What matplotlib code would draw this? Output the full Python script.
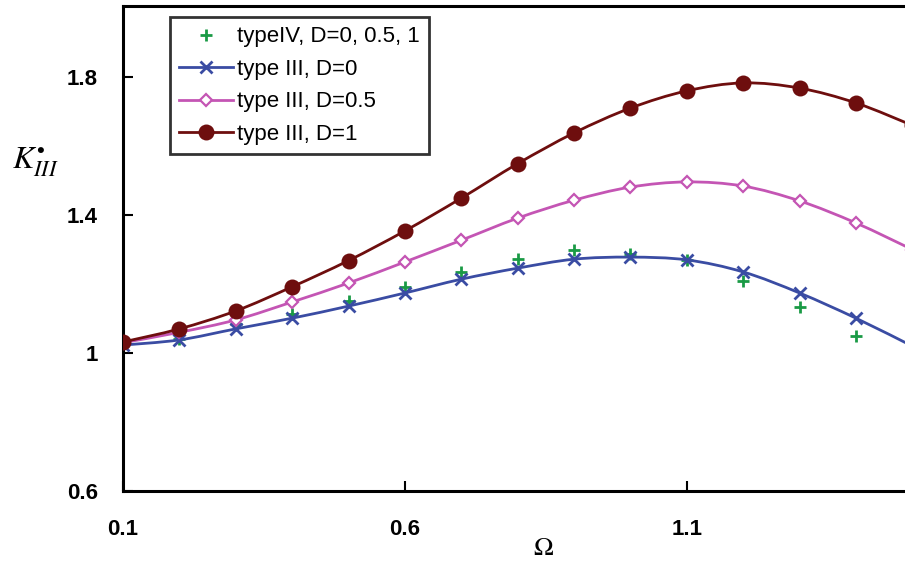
import numpy as np
import matplotlib
matplotlib.use('Agg')
import matplotlib.pyplot as plt
from matplotlib.path import Path
from matplotlib.patches import PathPatch
from matplotlib.lines import Line2D

# data
omega = [0.1, 0.2, 0.3, 0.4, 0.5, 0.6, 0.7, 0.8, 0.9, 1.0, 1.1, 1.2, 1.3, 1.4, 1.5]
k_d0 = [1.023, 1.038, 1.070, 1.101, 1.136, 1.174, 1.214, 1.246, 1.272, 1.278,
        1.270, 1.235, 1.174, 1.101, 1.020]
k_d05 = [1.030, 1.060, 1.096, 1.148, 1.203, 1.264, 1.327, 1.391, 1.443, 1.481,
         1.496, 1.484, 1.441, 1.377, 1.300]
k_d1 = [1.032, 1.070, 1.122, 1.192, 1.268, 1.354, 1.449, 1.549, 1.638, 1.710,
        1.760, 1.783, 1.768, 1.725, 1.660]
omega_iv = [0.1, 0.2, 0.3, 0.4, 0.5, 0.6, 0.7, 0.8, 0.9, 1.0, 1.1, 1.2, 1.3, 1.4]
k_iv = [1.023, 1.040, 1.085, 1.113, 1.150, 1.190, 1.235, 1.272, 1.298, 1.287,
        1.270, 1.209, 1.133, 1.049]

labels = ['typeIV, D=0, 0.5, 1', 'type III, D=0', 'type III, D=0.5', 'type III, D=1']
x_ticks = [0.1, 0.6, 1.1]
y_ticks = [0.6, 1.0, 1.4, 1.8]

GREEN = '#1a9a45'
BLUE = '#3a4ca3'
PINK = '#c455b4'
DRED = '#6e0e0e'


def smooth_path(xs, ys, tension=1.0 / 6):
  '''Catmull-Rom style bezier through the points (like Excel smoothed lines)'''
  pts = np.column_stack([xs, ys])
  verts = [pts[0]]
  codes = [Path.MOVETO]
  n = len(pts)
  for i in range(n - 1):
    p0 = pts[max(i - 1, 0)]
    p1 = pts[i]
    p2 = pts[i + 1]
    p3 = pts[min(i + 2, n - 1)]
    c1 = p1 + (p2 - p0) * tension
    c2 = p2 - (p3 - p1) * tension
    verts += [c1, c2, p2]
    codes += [Path.CURVE4] * 3
  return Path(verts, codes)


plt.rcParams['font.family'] = ['Liberation Sans', 'DejaVu Sans']
plt.rcParams['mathtext.fontset'] = 'stix'

fig = plt.figure(figsize=(9.05, 5.62), dpi=100)
ax = fig.add_axes([123 / 905, 1 - 491 / 562, 1 - 123 / 905, (491 - 6) / 562])

series = [
  (k_d0, BLUE, dict(marker='x', ms=9, mew=2.0, mfc=BLUE)),
  (k_d05, PINK, dict(marker='D', ms=6, mew=1.6, mfc='white')),
  (k_d1, DRED, dict(marker='o', ms=11.5, mew=0, mfc=DRED)),
]

# green pluses sit behind the curves
ax.plot(omega_iv, k_iv, ls='none', marker='+', ms=9, mew=2.0, color=GREEN, zorder=1)

z = 2
for ys, col, mk in series:
  patch = PathPatch(smooth_path(omega, ys), fill=False, edgecolor=col, lw=2.0,
                    zorder=z, capstyle='round')
  ax.add_patch(patch)
  ax.plot(omega, ys, ls='none', color=col, zorder=z + 0.5, **mk)
  z += 1

ax.set_xlim(0.1, 1.487)
ax.set_ylim(0.6, 2.006)
ax.set_xticks(x_ticks)
ax.set_yticks(y_ticks)
ax.set_xticklabels(['0.1', '0.6', '1.1'])
ax.set_yticklabels(['0.6', '1', '1.4', '1.8'])
ax.tick_params(direction='in', length=7, width=1.5, labelsize=16, colors='black')
ax.tick_params(axis='x', pad=20)
ax.tick_params(axis='y', pad=18)
for lab in ax.get_xticklabels() + ax.get_yticklabels():
  lab.set_fontweight('bold')
for side in ['left', 'bottom', 'top']:
  ax.spines[side].set_linewidth(2.2)
ax.spines['right'].set_visible(False)

# legend
handles = [
  Line2D([], [], ls='none', marker='+', ms=9, mew=2.0, color=GREEN),
  Line2D([], [], color=BLUE, lw=2.0, marker='x', ms=9, mew=2.0),
  Line2D([], [], color=PINK, lw=2.0, marker='D', ms=6, mew=1.6, mfc='white'),
  Line2D([], [], color=DRED, lw=2.0, marker='o', ms=11.5, mew=0),
]
leg = ax.legend(handles, labels, loc='upper left', bbox_to_anchor=(47 / 782, 1 - 11 / 485),
                fontsize=16, frameon=True, fancybox=False, edgecolor='black',
                handlelength=2.4, handletextpad=0.2, labelspacing=0.52,
                borderpad=0.42, borderaxespad=0.0)
leg.get_frame().set_linewidth(2.0)

fig.text(35 / 905, 1 - 162 / 562, r'$K^{\bullet}_{III}$', fontsize=23,
         ha='center', va='center')
fig.text(543 / 905, 1 - 548 / 562, r'$\Omega$', fontsize=19, ha='center', va='center',
         family='DejaVu Sans')

fig.savefig('out.png', dpi=100)
